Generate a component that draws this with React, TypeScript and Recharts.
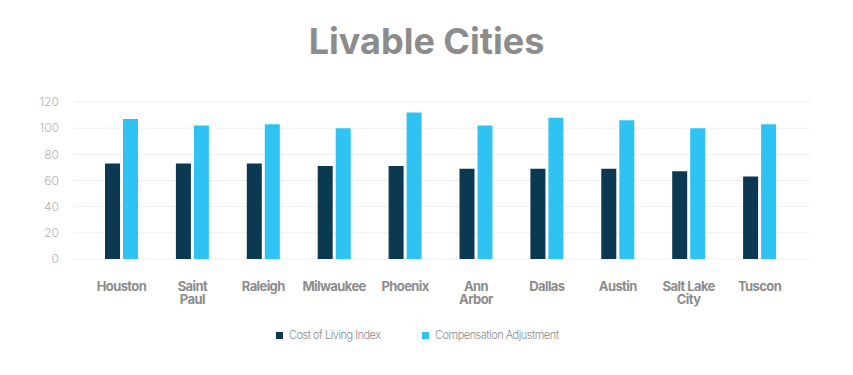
import { BarChart, Bar, XAxis, YAxis, CartesianGrid } from "recharts"

const cities = ["Houston", "Saint Paul", "Raleigh", "Milwaukee", "Phoenix", "Ann Arbor", "Dallas", "Austin", "Salt Lake City", "Tuscon"]
const tickLabels = ["Houston", "Saint\nPaul", "Raleigh", "Milwaukee", "Phoenix", "Ann\nArbor", "Dallas", "Austin", "Salt Lake\nCity", "Tuscon"]
const costOfLiving = [73, 73, 73, 71, 71, 69, 69, 69, 67, 63]
const compensation = [107, 102, 103, 100, 112, 102, 108, 106, 100, 103]
const yTicks = [0, 20, 40, 60, 80, 100, 120]
const seriesNames = ["Cost of Living Index", "Compensation Adjustment"]
const seriesColors = ["#0b3952", "#2ec3f2"]

const data = cities.map((city, i) => ({
    city,
    cost: costOfLiving[i],
    comp: compensation[i],
}))

const FONT = "Inter, 'Noto Sans', sans-serif"

function CityTick({ x, y, payload }: any) {
    const lines = tickLabels[payload.index].split("\n")
    return (
        <text
            x={x}
            y={y + 32}
            textAnchor="middle"
            fill="#8c8c8c"
            fontSize={13}
            fontWeight={700}
            fontFamily={FONT}
            letterSpacing={-0.6}
        >
            {lines.map((l, i) => (
                <tspan key={i} x={x} dy={i === 0 ? 0 : 12.5}>
                    {l}
                </tspan>
            ))}
        </text>
    )
}

export default function App() {
    return (
        <div style={{ position: "absolute", left: 0, top: 0, width: 853, height: 375, background: "#fff", fontFamily: FONT }}>
            <div
                style={{
                    position: "absolute",
                    left: 0,
                    width: 853,
                    top: 16,
                    textAlign: "center",
                    fontSize: 36,
                    fontWeight: 700,
                    color: "#8c8c8c",
                    letterSpacing: 0,
                    lineHeight: "50px",
                }}
            >
                Livable Cities
            </div>
            <BarChart
                width={853}
                height={375}
                data={data}
                margin={{ top: 102, right: 43, bottom: 86, left: 14 }}
                barSize={15}
                barGap={3}
            >
                <CartesianGrid vertical={false} stroke="#efefef" />
                <XAxis
                    dataKey="city"
                    axisLine={false}
                    tickLine={false}
                    tickSize={0}
                    tickMargin={0}
                    interval={0}
                    padding={{ left: 12, right: 15 }}
                    tick={<CityTick />}
                />
                <YAxis
                    width={60}
                    domain={[0, 120]}
                    ticks={yTicks}
                    axisLine={false}
                    tickLine={false}
                    tickSize={0}
                    tickMargin={15}
                    tick={{ fill: "#b3b3b3", fontSize: 12, fontWeight: 300, fontFamily: FONT }}
                />
                <Bar dataKey="cost" name={seriesNames[0]} fill={seriesColors[0]} isAnimationActive={false} />
                <Bar dataKey="comp" name={seriesNames[1]} fill={seriesColors[1]} isAnimationActive={false} />
            </BarChart>
            <div style={{ position: "absolute", top: 328, left: 276, display: "flex", alignItems: "center", fontSize: 11, fontWeight: 300, color: "#8c8c8c", letterSpacing: -0.5 }}>
                {seriesNames.map((name, i) => (
                    <div key={name} style={{ display: "flex", alignItems: "center", width: i === 0 ? 146 : undefined }}>
                        <span style={{ width: 7, height: 7, background: seriesColors[i], marginRight: 6, display: "inline-block" }} />
                        <span>{name}</span>
                    </div>
                ))}
            </div>
        </div>
    )
}
